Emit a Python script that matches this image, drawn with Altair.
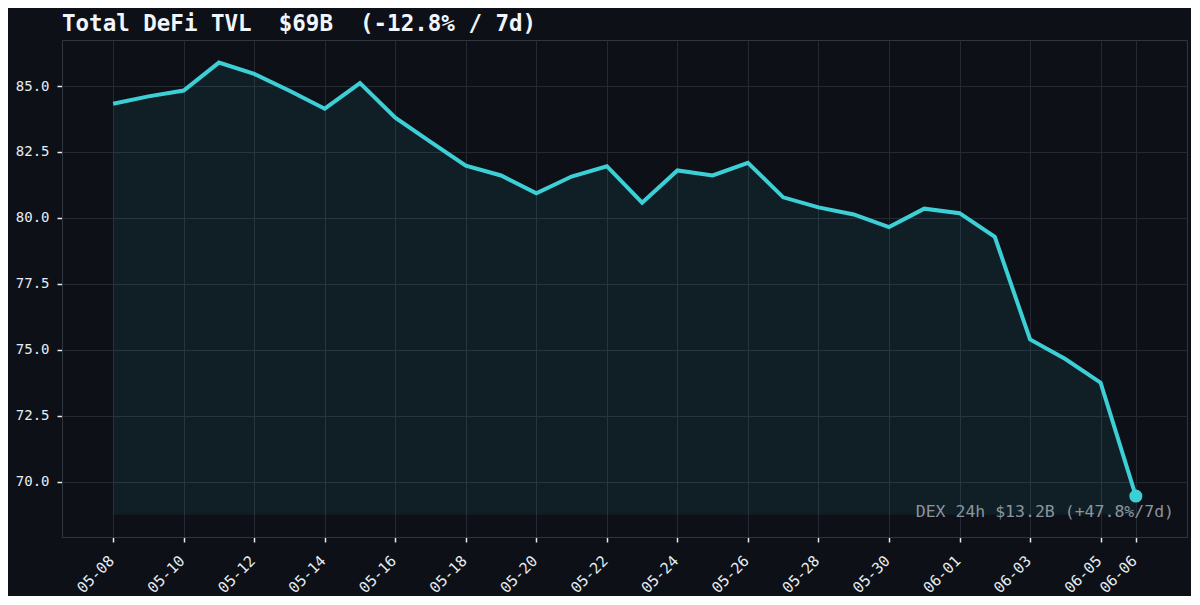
import altair as alt
import pandas as pd

dates = [
    "2025-05-08", "2025-05-09", "2025-05-10", "2025-05-11", "2025-05-12",
    "2025-05-13", "2025-05-14", "2025-05-15", "2025-05-16", "2025-05-17",
    "2025-05-18", "2025-05-19", "2025-05-20", "2025-05-21", "2025-05-22",
    "2025-05-23", "2025-05-24", "2025-05-25", "2025-05-26", "2025-05-27",
    "2025-05-28", "2025-05-29", "2025-05-30", "2025-05-31", "2025-06-01",
    "2025-06-02", "2025-06-03", "2025-06-04", "2025-06-05", "2025-06-06",
]
tvl = [
    84.33, 84.61, 84.83, 85.89, 85.46,
    84.82, 84.14, 85.11, 83.80, 82.88,
    81.98, 81.61, 80.93, 81.57, 81.96,
    80.58, 81.80, 81.61, 82.09, 80.78,
    80.40, 80.13, 79.65, 80.35, 80.18,
    79.28, 75.39, 74.65, 73.75, 69.45,
]
tick_dates = [
    "2025-05-08", "2025-05-10", "2025-05-12", "2025-05-14", "2025-05-16",
    "2025-05-18", "2025-05-20", "2025-05-22", "2025-05-24", "2025-05-26",
    "2025-05-28", "2025-05-30", "2025-06-01", "2025-06-03", "2025-06-05",
    "2025-06-06",
]
y_ticks = [70.0, 72.5, 75.0, 77.5, 80.0, 82.5, 85.0]
title_text = "Total DeFi TVL\u00a0\u00a0$69B\u00a0\u00a0(-12.8% / 7d)"
note_text = "DEX 24h $13.2B (+47.8%/7d)"

BG = "#0d1117"
LINE = "#3ccfd6"
MONO = "DejaVu Sans Mono"
LABEL = "#e6edf3"

ts = pd.to_datetime(pd.Series(dates), utc=True)
ms = (ts.astype("int64") // 10**6).tolist()
tick_ms = (pd.to_datetime(pd.Series(tick_dates), utc=True).astype("int64") // 10**6).tolist()

baseline = min(tvl) * 0.99
span = ms[-1] - ms[0]
x_dom = [ms[0] - 0.05 * span, ms[-1] + 0.05 * span]
yr = max(tvl) - baseline
y_dom = [baseline - 0.05 * yr, max(tvl) + 0.05 * yr]

df = pd.DataFrame({"t": ms, "tvl": tvl, "base": baseline})
last = df.tail(1)

W, H = 1125, 497

x_enc = alt.X(
    "t:T",
    scale=alt.Scale(type="utc", domain=x_dom, nice=False),
    axis=alt.Axis(
        values=tick_ms, title=None,
        labelExpr="utcFormat(datum.value, '%m-%d')",
        labelAngle=-45, labelAlign="right", labelBaseline="top",
        labelColor=LABEL, labelFont=MONO, labelFontSize=15,
        labelPadding=11, labelOffset=-7,
        tickColor=LABEL, tickSize=5, tickWidth=1.5,
        domainColor="#30363d", gridColor="#232a33", gridWidth=1,
        labelOverlap=False, labelFlush=False,
    ),
)
y_enc = alt.Y(
    "tvl:Q",
    scale=alt.Scale(domain=y_dom, nice=False, zero=False),
    axis=alt.Axis(
        values=y_ticks, format=".1f", title=None,
        labelColor=LABEL, labelFont=MONO, labelFontSize=14,
        labelPadding=8,
        tickColor=LABEL, tickSize=5, tickWidth=1.5,
        domainColor="#30363d", gridColor="#232a33", gridWidth=1,
    ),
)

area = alt.Chart(df).mark_area(color=LINE, opacity=0.08).encode(
    x=x_enc, y=y_enc, y2="base:Q"
)
line = alt.Chart(df).mark_line(color=LINE, strokeWidth=4).encode(x=x_enc, y=y_enc)
dot = alt.Chart(last).mark_circle(color=LINE, size=170, opacity=1).encode(x=x_enc, y=y_enc)
note = alt.Chart(last).mark_text(
    text=note_text, align="right", baseline="alphabetic",
    font=MONO, fontSize=16.5, color="#8b949e",
).encode(x=alt.value(W - 13), y=alt.value(H - 20))

chart = (
    alt.layer(area, line, dot, note)
    .properties(
        width=W, height=H,
        background=BG,
        autosize=alt.AutoSizeParams(type="none"),
        padding={"left": 54, "top": 32, "right": 4, "bottom": 59},
        title=alt.TitleParams(
            title_text, anchor="start", font=MONO, fontSize=22.5, fontWeight="bold",
            color="#f0f6fc", offset=5, frame="group",
        ),
    )
    .configure_view(fill=BG, stroke="#30363d", strokeWidth=1)
)

chart.save("out.html", embed_options={"renderer": "svg", "actions": False})
